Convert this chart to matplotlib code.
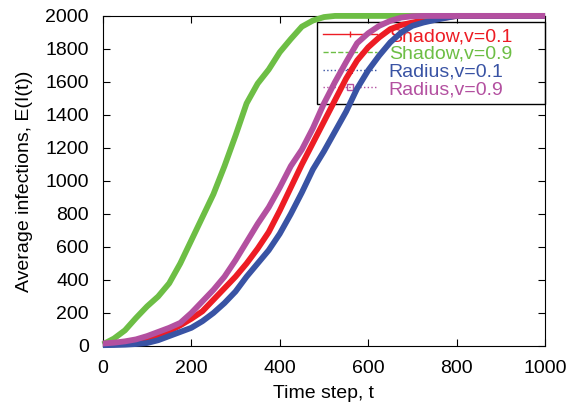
import numpy as np
import matplotlib
matplotlib.use("Agg")
import matplotlib.pyplot as plt
from matplotlib.lines import Line2D

plt.rcParams['font.family'] = ['Liberation Sans', 'DejaVu Sans']

# time steps and average infections
t_shadow09 = [0, 25, 50, 75, 100, 125, 150, 175, 200, 225, 250, 275, 300,
              325, 350, 375, 400, 425, 450, 475, 500, 525, 1000]
shadow09 = [10, 45, 95, 170, 240, 300, 380, 500, 640, 780, 920, 1090, 1275,
            1470, 1590, 1675, 1780, 1860, 1935, 1972, 1993, 2000, 2000]

t_radius09 = [0, 25, 50, 75, 100, 125, 150, 175, 200, 225, 250, 275, 300,
              325, 350, 375, 400, 425, 450, 475, 500, 525, 550, 575, 600,
              625, 650, 675, 700, 725, 1000]
radius09 = [15, 20, 28, 40, 60, 85, 110, 140, 200, 270, 340, 420, 520,
            630, 740, 840, 960, 1090, 1190, 1320, 1470, 1600, 1720, 1835, 1895,
            1940, 1970, 1990, 1998, 2000, 2000]

t_shadow01 = [0, 25, 50, 75, 100, 125, 150, 175, 200, 225, 250, 275, 300,
              325, 350, 375, 400, 425, 450, 475, 500, 525, 550, 575, 600,
              625, 650, 675, 700, 725, 750, 775, 800, 1000]
shadow01 = [10, 12, 18, 28, 45, 65, 90, 125, 165, 210, 280, 350, 420,
            500, 590, 690, 820, 960, 1100, 1230, 1360, 1490, 1620, 1730, 1810,
            1870, 1920, 1945, 1960, 1972, 1982, 1990, 2000, 2000]

t_radius01 = [0, 25, 50, 75, 100, 125, 150, 175, 200, 225, 250, 275, 300,
              325, 350, 375, 400, 425, 450, 475, 500, 525, 550, 575, 600,
              625, 650, 675, 700, 725, 750, 775, 800, 1000]
radius01 = [5, 6, 8, 12, 18, 35, 60, 85, 110, 150, 200, 260, 330,
            420, 500, 580, 680, 800, 930, 1070, 1180, 1300, 1420, 1560, 1670,
            1760, 1840, 1900, 1940, 1960, 1975, 1988, 2000, 2000]

labels = ["Shadow,v=0.1", "Shadow,v=0.9", "Radius,v=0.1", "Radius,v=0.9"]
colors = ["#ED1C24", "#6DBE45", "#3953A4", "#B350A0"]
styles = ["-", "--", ":", ":"]
markers = ["|", None, "*", "s"]

fig = plt.figure(figsize=(5.78, 4.08), dpi=100)
ax = fig.add_axes([0.178, 0.152, 0.765, 0.809])

series = [(t_shadow01, shadow01), (t_shadow09, shadow09),
          (t_radius01, radius01), (t_radius09, radius09)]
for (t, y), c in zip(series, colors):
    ax.plot(t, y, color=c, lw=4.2, solid_capstyle='butt', zorder=3,
            clip_on=False)

ax.set_xlim(0, 1000)
ax.set_ylim(0, 2000)
ax.set_xticks(np.arange(0, 1001, 200))
ax.set_yticks(np.arange(0, 2001, 200))
ax.tick_params(direction='in', top=True, right=True, length=5, labelsize=14,
               pad=10)
ax.set_xlabel("Time step, t", fontsize=14, labelpad=6)
ax.set_ylabel("Average infections, E(I(t))", fontsize=14, labelpad=9)

handles = []
for c, ls, m in zip(colors, styles, markers):
    h = Line2D([0, 0.5, 1], [0, 0, 0], color=c, ls=ls, lw=1, marker=m,
               markersize=5, markerfacecolor='none' if m == 's' else c,
               markeredgecolor=c, markevery=[1])
    handles.append(h)

leg = ax.legend(handles, labels, loc='upper left',
                bbox_to_anchor=(0.484, 0.745, 0.516, 0.237), mode='expand',
                fontsize=14, frameon=True, fancybox=False, handlelength=2.8,
                labelspacing=0.0, borderpad=0.3, handletextpad=0.6,
                borderaxespad=0)
leg.get_frame().set_edgecolor('black')
leg.get_frame().set_linewidth(1)
leg.get_frame().set_alpha(None)
for txt, c in zip(leg.get_texts(), colors):
    txt.set_color(c)
leg.set_zorder(1)

fig.savefig("out.png", dpi=100)
